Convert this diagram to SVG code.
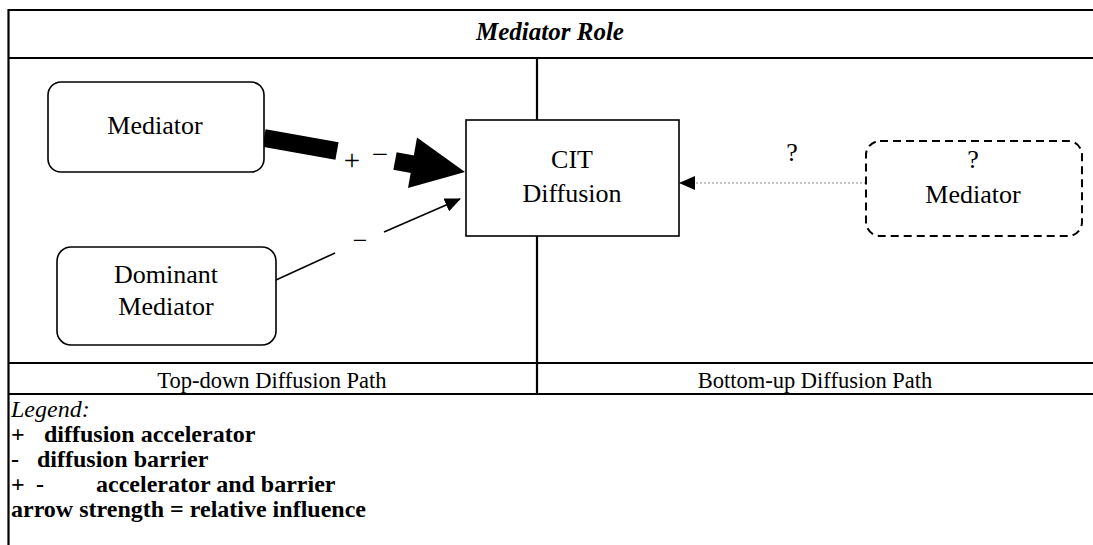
<svg xmlns="http://www.w3.org/2000/svg" width="1093" height="545" viewBox="0 0 1093 545">
  <style>
    .grid { stroke: #000; stroke-width: 2.2; fill: none; }
    .node { fill: #fff; stroke: #000; stroke-width: 1.6; }
    .dashed { fill: #fff; stroke: #000; stroke-width: 2; stroke-dasharray: 8 5; }
    .txt { font-family: "Liberation Serif", "Times New Roman", serif; font-size: 26px; fill: #000; }
    .row { font-family: "Liberation Serif", "Times New Roman", serif; font-size: 22.5px; fill: #000; text-anchor: middle; }
    .mid { text-anchor: middle; }
    .sign { font-family: "Liberation Serif", "Times New Roman", serif; font-size: 29px; text-anchor: middle; }
    .title { font-family: "Liberation Serif", "Times New Roman", serif; font-size: 25px; font-weight: bold; font-style: italic; text-anchor: middle; }
    .leg { font-family: "Liberation Serif", "Times New Roman", serif; font-size: 24px; font-weight: bold; }
    .legi { font-family: "Liberation Serif", "Times New Roman", serif; font-size: 24px; font-style: italic; }
  </style>
  <defs>
    <marker id="headSmall" markerWidth="16" markerHeight="14" refX="15" refY="7" orient="auto" markerUnits="userSpaceOnUse">
      <path d="M0,0 L16,7 L0,14 Z" fill="#000"/>
    </marker>
  </defs>

  <rect width="1093" height="545" fill="#fff"/>

  <!-- table frame -->
  <g id="table">
    <line class="grid" x1="8.5" y1="10" x2="1093" y2="10"/>
    <line class="grid" x1="8.5" y1="58" x2="1093" y2="58"/>
    <line class="grid" x1="8.5" y1="363" x2="1093" y2="363"/>
    <line class="grid" x1="8.5" y1="394" x2="1093" y2="394"/>
    <line class="grid" x1="8.5" y1="9" x2="8.5" y2="545"/>
    <line class="grid" x1="537" y1="58" x2="537" y2="394"/>
    <text class="title" x="550" y="40">Mediator Role</text>
    <text class="row" x="272" y="388">Top-down Diffusion Path</text>
    <text class="row" x="815" y="388">Bottom-up Diffusion Path</text>
  </g>

  <!-- connectors -->
  <g id="connectors">
    <!-- strong accelerator/barrier influence -->
    <line x1="264" y1="138" x2="337" y2="151" stroke="#000" stroke-width="18"/>
    <line x1="395" y1="161" x2="414" y2="164.5" stroke="#000" stroke-width="18"/>
    <polygon points="465,172 417,137.5 408,188" fill="#000"/>
    <text class="sign" x="352" y="170">+</text>
    <text class="sign" x="380" y="164">−</text>

    <!-- dominant mediator barrier -->
    <line x1="276" y1="280" x2="335" y2="253" stroke="#000" stroke-width="1.6"/>
    <line x1="384" y1="232" x2="460" y2="199" stroke="#000" stroke-width="1.6" marker-end="url(#headSmall)"/>
    <text class="txt mid" x="360" y="249">−</text>

    <!-- uncertain bottom-up influence -->
    <line x1="866" y1="183" x2="680" y2="183" stroke="#888" stroke-width="1.2" stroke-dasharray="2 2" marker-end="url(#headSmall)"/>
    <text class="txt mid" x="792" y="161">?</text>
  </g>

  <g id="mediator">
    <rect class="node" x="48" y="82" width="216" height="90" rx="13"/>
    <text class="txt mid" x="155" y="134">Mediator</text>
  </g>

  <g id="dominant-mediator">
    <rect class="node" x="57" y="247" width="219" height="98" rx="14"/>
    <text class="txt mid" x="166" y="283">Dominant</text>
    <text class="txt mid" x="166" y="315">Mediator</text>
  </g>

  <g id="cit-diffusion">
    <rect class="node" x="466" y="120" width="213" height="116"/>
    <text class="txt mid" x="572" y="168">CIT</text>
    <text class="txt mid" x="572" y="202">Diffusion</text>
  </g>

  <g id="unknown-mediator">
    <rect class="dashed" x="866" y="141" width="216" height="95" rx="14"/>
    <text class="txt mid" x="973" y="168">?</text>
    <text class="txt mid" x="973" y="203">Mediator</text>
  </g>

  <!-- legend -->
  <g id="legend">
    <text class="legi" x="11" y="417">Legend:</text>
    <text class="leg" y="442"><tspan x="11">+</tspan><tspan x="44">diffusion accelerator</tspan></text>
    <text class="leg" y="467"><tspan x="11">-</tspan><tspan x="37">diffusion barrier</tspan></text>
    <text class="leg" y="492"><tspan x="11">+</tspan><tspan x="36">-</tspan><tspan x="96">accelerator and barrier</tspan></text>
    <text class="leg" x="11" y="517">arrow strength = relative influence</text>
  </g>
</svg>
